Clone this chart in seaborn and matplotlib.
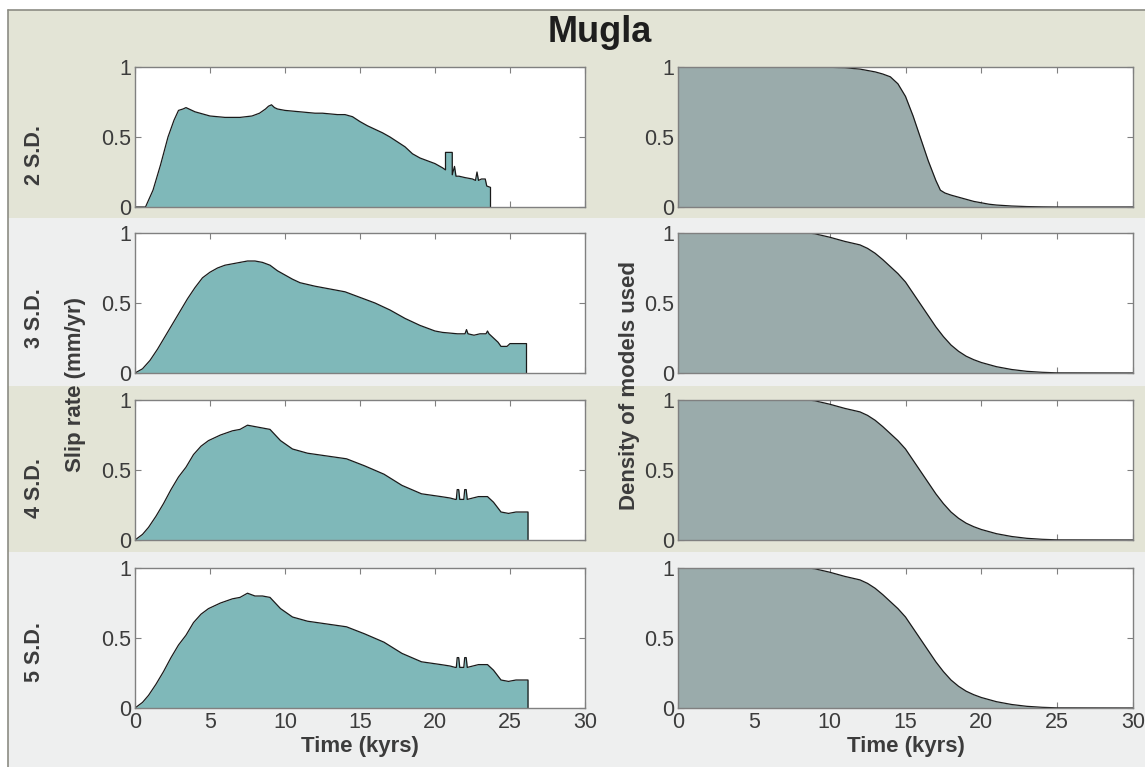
import matplotlib
matplotlib.use("Agg")
import matplotlib.pyplot as plt
import seaborn as sns
import pandas as pd
from matplotlib.patches import Rectangle
from matplotlib.lines import Line2D

sns.set_theme(style="white")
plt.rcParams['font.family'] = ['Liberation Sans', 'DejaVu Sans']

# ---------------- data ----------------
title = "Mugla"
row_labels = ["2 S.D.", "3 S.D.", "4 S.D.", "5 S.D."]
x_ticks = [0, 5, 10, 15, 20, 25, 30]
y_ticks = [0, 0.5, 1]
y_tick_labels = ["0", "0.5", "1"]

# slip rate (mm/yr) against time (kyrs)
slip_t_2sd = [0, 0.7, 1.2, 1.7, 2.2, 2.6, 2.9, 3.2, 3.4, 4.0, 5.0, 6.0, 7.0, 7.8, 8.3, 8.7,
              8.9, 9.1, 9.3, 9.5, 10.0, 10.5, 11.0, 11.5, 12.0, 12.5, 13.0, 13.5, 14.0,
              14.5, 15.0, 15.5, 16.0, 16.5, 17.0, 17.5, 18.0, 18.5, 19.0, 19.5, 20.0,
              20.5, 20.7, 20.7, 21.15, 21.15, 21.3, 21.4, 21.6, 22.0, 22.5, 22.7, 22.8,
              22.9, 23.1, 23.35, 23.45, 23.7, 23.7]
slip_v_2sd = [0, 0, 0.12, 0.3, 0.5, 0.62, 0.69, 0.70, 0.71, 0.68, 0.65, 0.64, 0.64, 0.65, 0.67,
              0.70, 0.72, 0.73, 0.71, 0.70, 0.69, 0.685, 0.68, 0.675, 0.67, 0.67, 0.665, 0.66,
              0.66, 0.645, 0.61, 0.58, 0.555, 0.53, 0.50, 0.465, 0.43, 0.38, 0.35, 0.33, 0.31,
              0.28, 0.265, 0.39, 0.39, 0.23, 0.29, 0.22, 0.22, 0.21, 0.20, 0.19, 0.25, 0.19,
              0.20, 0.20, 0.15, 0.14, 0]

slip_t_3sd = [0, 0.5, 1, 1.5, 2, 2.5, 3, 3.5, 4, 4.5, 5, 5.5, 6, 6.5, 7, 7.5, 8, 8.5, 9,
              9.5, 10, 10.5, 11, 12, 13, 14, 15, 16, 17, 18, 19, 19.5, 20, 20.5, 21, 21.5,
              22.0, 22.1, 22.2, 22.6, 23.0, 23.4, 23.5, 23.6, 23.9, 24.2, 24.4, 24.8, 25.0,
              26.1, 26.1]
slip_v_3sd = [0, 0.03, 0.09, 0.17, 0.26, 0.35, 0.44, 0.53, 0.61, 0.68, 0.72, 0.75, 0.77,
              0.78, 0.79, 0.80, 0.80, 0.79, 0.77, 0.73, 0.70, 0.67, 0.645, 0.62, 0.60, 0.58,
              0.54, 0.50, 0.45, 0.39, 0.34, 0.32, 0.30, 0.29, 0.285, 0.28, 0.28, 0.31, 0.28,
              0.27, 0.28, 0.28, 0.30, 0.28, 0.25, 0.22, 0.19, 0.19, 0.21, 0.21, 0]

slip_t_4sd = [0, 0.5, 0.9, 1.4, 1.9, 2.4, 2.9, 3.4, 3.9, 4.4, 4.9, 5.7, 6.5, 7.0, 7.5, 8.0,
              8.5, 9.0, 9.7, 10.5, 11.5, 12.8, 14.1, 15.3, 16.6, 17.8, 19.1, 20.4, 21.0,
              21.35, 21.42, 21.48, 21.58, 21.65, 21.85, 21.92, 21.98, 22.08, 22.15, 22.9,
              23.5, 23.9, 24.4, 24.9, 25.4, 26.2, 26.2]
slip_v_4sd = [0, 0.04, 0.09, 0.17, 0.26, 0.36, 0.45, 0.52, 0.61, 0.67, 0.71, 0.75, 0.78,
              0.79, 0.82, 0.81, 0.80, 0.79, 0.71, 0.65, 0.62, 0.60, 0.58, 0.53, 0.47, 0.39,
              0.33, 0.31, 0.30, 0.29, 0.29, 0.36, 0.36, 0.29, 0.29, 0.29, 0.36, 0.36, 0.29,
              0.31, 0.31, 0.27, 0.20, 0.19, 0.20, 0.20, 0]

slip_t_5sd = [0, 0.5, 0.9, 1.4, 1.9, 2.4, 2.9, 3.4, 3.9, 4.4, 4.9, 5.7, 6.5, 7.0, 7.5, 8.0,
              8.5, 9.0, 9.7, 10.5, 11.5, 12.8, 14.1, 15.3, 16.6, 17.8, 19.1, 20.4, 21.0,
              21.35, 21.42, 21.48, 21.58, 21.65, 21.85, 21.92, 21.98, 22.08, 22.15, 22.9,
              23.5, 23.9, 24.4, 24.9, 25.4, 26.2, 26.2]
slip_v_5sd = [0, 0.04, 0.09, 0.17, 0.26, 0.36, 0.45, 0.52, 0.61, 0.67, 0.71, 0.75, 0.78,
              0.79, 0.82, 0.80, 0.80, 0.79, 0.71, 0.65, 0.62, 0.60, 0.58, 0.53, 0.47, 0.39,
              0.33, 0.31, 0.30, 0.29, 0.29, 0.36, 0.36, 0.29, 0.29, 0.29, 0.36, 0.36, 0.29,
              0.31, 0.31, 0.27, 0.20, 0.19, 0.20, 0.20, 0]

# density of models used against time (kyrs)
dens_t_2sd = [0, 2, 4, 6, 8, 10, 11, 12, 13, 13.5, 14, 14.5, 15, 15.5, 16, 16.5, 17, 17.3,
              17.6, 18, 18.5, 19, 19.5, 20, 20.5, 21, 22, 23, 24, 25, 30]
dens_v_2sd = [1, 1, 1, 1, 1, 0.998, 0.995, 0.985, 0.965, 0.95, 0.93, 0.88, 0.79, 0.65, 0.49,
              0.33, 0.19, 0.12, 0.10, 0.085, 0.07, 0.055, 0.04, 0.03, 0.02, 0.014, 0.007,
              0.003, 0.001, 0, 0]

dens_t_3sd = [0, 4, 8, 8.6, 9, 10, 11, 12, 12.5, 13, 13.5, 14, 14.5, 15, 15.5, 16, 16.5, 17,
              17.5, 18, 18.5, 19, 19.5, 20, 21, 22, 23, 24, 25, 30]
dens_v_3sd = [1, 1, 1, 1, 0.995, 0.97, 0.94, 0.915, 0.89, 0.855, 0.81, 0.76, 0.71, 0.65,
              0.57, 0.49, 0.41, 0.33, 0.26, 0.20, 0.155, 0.12, 0.095, 0.075, 0.045, 0.025,
              0.012, 0.005, 0.001, 0]
dens_t_4sd = list(dens_t_3sd)
dens_v_4sd = list(dens_v_3sd)
dens_t_5sd = list(dens_t_3sd)
dens_v_5sd = list(dens_v_3sd)

slip_series = [(slip_t_2sd, slip_v_2sd), (slip_t_3sd, slip_v_3sd),
               (slip_t_4sd, slip_v_4sd), (slip_t_5sd, slip_v_5sd)]
dens_series = [(dens_t_2sd, dens_v_2sd), (dens_t_3sd, dens_v_3sd),
               (dens_t_4sd, dens_v_4sd), (dens_t_5sd, dens_v_5sd)]

# ---------------- styling ----------------
W, H = 1145, 767
TEAL = "#7fb8b9"
GREY = "#9aabab"
BEIGE = "#e3e4d6"
LIGHT = "#eeefef"
SPINE = "#808080"
TXT = "#3c3c3c"

fig = plt.figure(figsize=(W / 100, H / 100), dpi=100)
fig.patch.set_facecolor("white")


def fx(px):
    return px / W


def fy(py):
    return 1 - py / H


# horizontal background bands, one per row
bands = [(10, 218, BEIGE), (218, 386, LIGHT), (386, 552, BEIGE), (552, 767, LIGHT)]
for top, bot, col in bands:
    fig.add_artist(Rectangle((fx(8), fy(bot)), 1 - fx(8), (bot - top) / H,
                             transform=fig.transFigure, facecolor=col,
                             edgecolor="none", zorder=-10))
fig.add_artist(Line2D([fx(8), fx(8)], [fy(10), 0], transform=fig.transFigure,
                      color="#8c8c84", lw=1.2))
fig.add_artist(Line2D([fx(8), 1], [fy(10), fy(10)], transform=fig.transFigure,
                      color="#8c8c84", lw=1.2))

row_top = [67, 233, 400, 568]
row_h = 140
col_left = [135, 678]
col_w = [450, 455]


def style_axes(ax, last_row):
    ax.set_xlim(0, 30)
    ax.set_ylim(0, 1)
    ax.set_facecolor("white")
    ax.set_xticks(x_ticks)
    ax.set_yticks(y_ticks)
    ax.set_yticklabels(y_tick_labels)
    if last_row:
        ax.set_xticklabels([str(v) for v in x_ticks])
    else:
        ax.set_xticklabels([])
    ax.tick_params(direction="in", length=4, width=0.8, color=SPINE,
                   top=True, right=True, bottom=True, left=True,
                   labelsize=15.5, labelcolor=TXT, pad=3)
    for s in ax.spines.values():
        s.set_color(SPINE)
        s.set_linewidth(1.0)
    ax.set_xlabel("")
    ax.set_ylabel("")


for i in range(4):
    for j, (series, fill) in enumerate([(slip_series, TEAL), (dens_series, GREY)]):
        ax = fig.add_axes([fx(col_left[j]), fy(row_top[i] + row_h), col_w[j] / W, row_h / H])
        t, v = series[i]
        df = pd.DataFrame({"t": t, "v": v})
        ax.fill_between(df["t"], df["v"], 0, color=fill, lw=0, zorder=1)
        sns.lineplot(data=df, x="t", y="v", ax=ax, color="#1a1a1a", lw=0.9,
                     sort=False, estimator=None, zorder=2)
        style_axes(ax, i == 3)
        if i == 3:
            ax.set_xlabel("Time (kyrs)", fontsize=16, fontweight="bold",
                          color=TXT, labelpad=2)

label_y = [155, 318, 488, 652]
for lab, y in zip(row_labels, label_y):
    fig.text(fx(35), fy(y), lab, rotation=90, ha="center", va="center",
             fontsize=15.5, fontweight="bold", color=TXT)

fig.text(fx(75), fy(385), "Slip rate (mm/yr)", rotation=90, ha="center", va="center",
         fontsize=16, fontweight="bold", color=TXT)
fig.text(fx(630), fy(385), "Density of models used", rotation=90, ha="center",
         va="center", fontsize=16, fontweight="bold", color=TXT)
fig.text(fx(600), fy(33), title, ha="center", va="center", fontsize=26,
         fontweight="bold", color="#1e1e1e")

fig.savefig("out.png", dpi=100, facecolor=fig.get_facecolor())
